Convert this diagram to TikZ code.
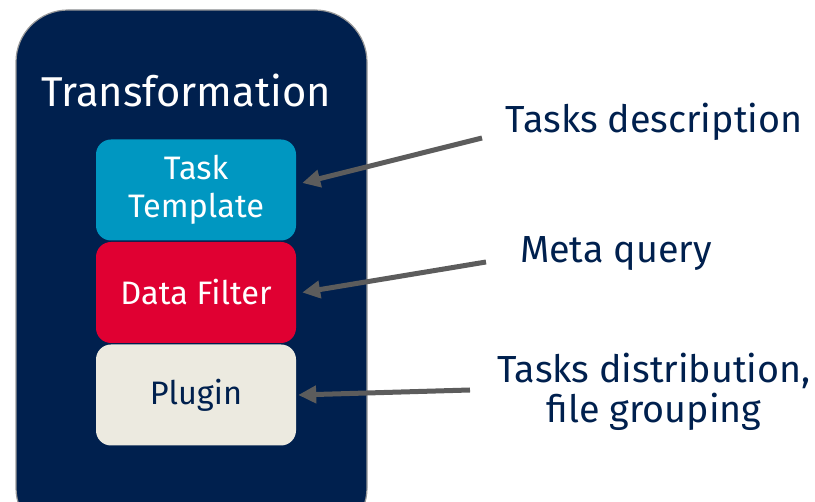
\documentclass[tikz,border=0pt]{standalone}
\usepackage{fontspec}
\setmainfont{Fira Sans}
\usetikzlibrary{arrows.meta}
\definecolor{navy}{RGB}{0,32,78}
\definecolor{tblue}{RGB}{0,151,193}
\definecolor{fred}{RGB}{224,0,50}
\definecolor{pbeige}{RGB}{236,234,224}
\definecolor{arrgray}{RGB}{92,92,92}
\tikzset{
  x=1pt, y=-1pt,
  outerbox/.style={fill=navy, draw=gray!80, line width=1.2pt, rounded corners=52pt},
  inbox/.style={rounded corners=15pt, minimum width=200pt, minimum height=101pt, inner sep=0pt, align=center, font=\fontsize{32.5}{38}\selectfont},
  label/.style={text=navy, anchor=base, align=center, font=\fontsize{37.7}{40}\selectfont},
  arr/.style={draw=arrgray, line width=5pt, -{Triangle[length=18pt,width=17pt]}},
}
\begin{document}
\begin{tikzpicture}
\useasboundingbox (0,0) rectangle (815,502);
% container
\begin{scope}
\clip (0,0) rectangle (815,502);
\draw[outerbox] (16,10) rectangle (367,540);
\end{scope}
\node[anchor=base, text=white, font=\fontsize{41.7}{48}\selectfont] (title) at (186,107) {Transformation};
% inner blocks
\node[inbox, fill=tblue, text=white] (tt) at (196,190) {Task\\Template};
\node[inbox, fill=fred, text=white] (df) at (196,292.5) {Data Filter};
\node[inbox, fill=pbeige, text=navy] (pl) at (196,395) {Plugin};
% explanations
\node[label] (l1) at (654,133) {Tasks description};
\node[label] (l2) at (616,263) {Meta query};
\node[label] (l3) at (654,423) {Tasks distribution,\\file grouping};
\coordinate (s1) at (482,138);
\coordinate (s2) at (486,262);
\coordinate (s3) at (470,390);
\draw[arr] (s1) -- ([xshift=6pt,yshift=7pt]tt.east);
\draw[arr] (s2) -- ([xshift=6pt]df.east);
\draw[arr] (s3) -- ([xshift=2pt]pl.east);
\end{tikzpicture}
\end{document}
